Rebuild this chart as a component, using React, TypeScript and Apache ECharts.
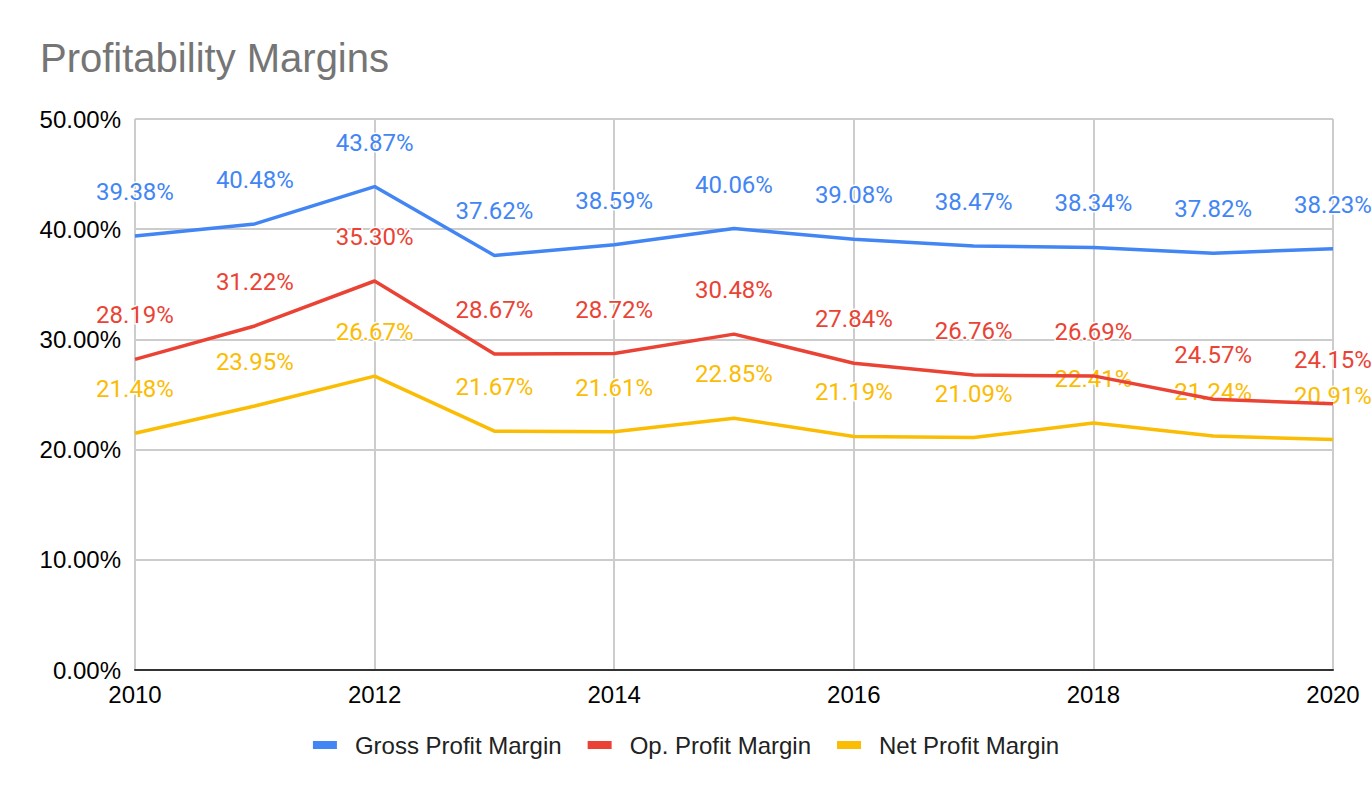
import React, { useEffect, useRef } from "react";
import * as echarts from "echarts";

const years = [2010, 2011, 2012, 2013, 2014, 2015, 2016, 2017, 2018, 2019, 2020];
const grossMargin = [39.38, 40.48, 43.87, 37.62, 38.59, 40.06, 39.08, 38.47, 38.34, 37.82, 38.23];
const opMargin = [28.19, 31.22, 35.3, 28.67, 28.72, 30.48, 27.84, 26.76, 26.69, 24.57, 24.15];
const netMargin = [21.48, 23.95, 26.67, 21.67, 21.61, 22.85, 21.19, 21.09, 22.41, 21.24, 20.91];
const seriesNames = ["Gross Profit Margin", "Op. Profit Margin", "Net Profit Margin"];
const colors = ["#4285F4", "#EA4335", "#FBBC04"];

export default function App() {
  const ref = useRef<HTMLDivElement>(null);
  useEffect(() => {
    if (!ref.current) return;
    const chart = echarts.init(ref.current, undefined, { renderer: "svg" });
    const all = [grossMargin, opMargin, netMargin];
    chart.setOption({
      animation: false,
      backgroundColor: "#ffffff",
      title: {
        text: "Profitability Margins",
        left: 35,
        top: 33,
        textStyle: { fontFamily: "Liberation Sans, Arial", fontSize: 40, fontWeight: "normal", color: "#757575" },
      },
      legend: {
        top: 728,
        left: "center",
        icon: "rect",
        itemWidth: 24,
        itemHeight: 8,
        itemGap: 26,
        textStyle: { fontFamily: "Liberation Sans, Arial", fontSize: 24, color: "#222222", padding: [0, 0, 0, 13] },
        data: seriesNames,
      },
      grid: { left: 135, right: 39, top: 119, bottom: 128, containLabel: false },
      xAxis: {
        type: "value",
        min: 2010,
        max: 2020,
        interval: 2,
        axisLine: { show: true, lineStyle: { color: "#333333", width: 2 } },
        axisTick: { show: false },
        axisLabel: { fontFamily: "Liberation Sans, Arial", fontSize: 24, color: "#000000", margin: 12, formatter: (v: number) => String(v) },
        splitLine: { show: true, lineStyle: { color: "#cccccc", width: 2 } },
      },
      yAxis: {
        type: "value",
        min: 0,
        max: 50,
        interval: 10,
        axisLine: { show: false },
        axisTick: { show: false },
        axisLabel: { fontFamily: "Liberation Sans, Arial", fontSize: 24, color: "#000000", margin: 14, formatter: (v: number) => v.toFixed(2) + "%" },
        splitLine: { show: true, lineStyle: { color: "#cccccc", width: 2 } },
      },
      series: all.map((vals, i) => ({
        name: seriesNames[i],
        type: "line",
        data: vals.map((v, j) => [years[j], v]),
        color: colors[i],
        showSymbol: true,
        symbol: "circle",
        symbolSize: 0,
        lineStyle: { width: 3.5, color: colors[i] },
        z: 10 - i,
        label: {
          show: true,
          position: "top",
          distance: 32,
          fontFamily: "Roboto",
          fontSize: 24,
          color: colors[i],
          textBorderColor: "#ffffff",
          textBorderWidth: 3,
          formatter: (p: any) => p.value[1].toFixed(2) + "%",
        },
      })),
    });
    return () => chart.dispose();
  }, []);
  return <div ref={ref} style={{ position: "fixed", left: 0, top: 0, width: 1372, height: 798 }} />;
}
